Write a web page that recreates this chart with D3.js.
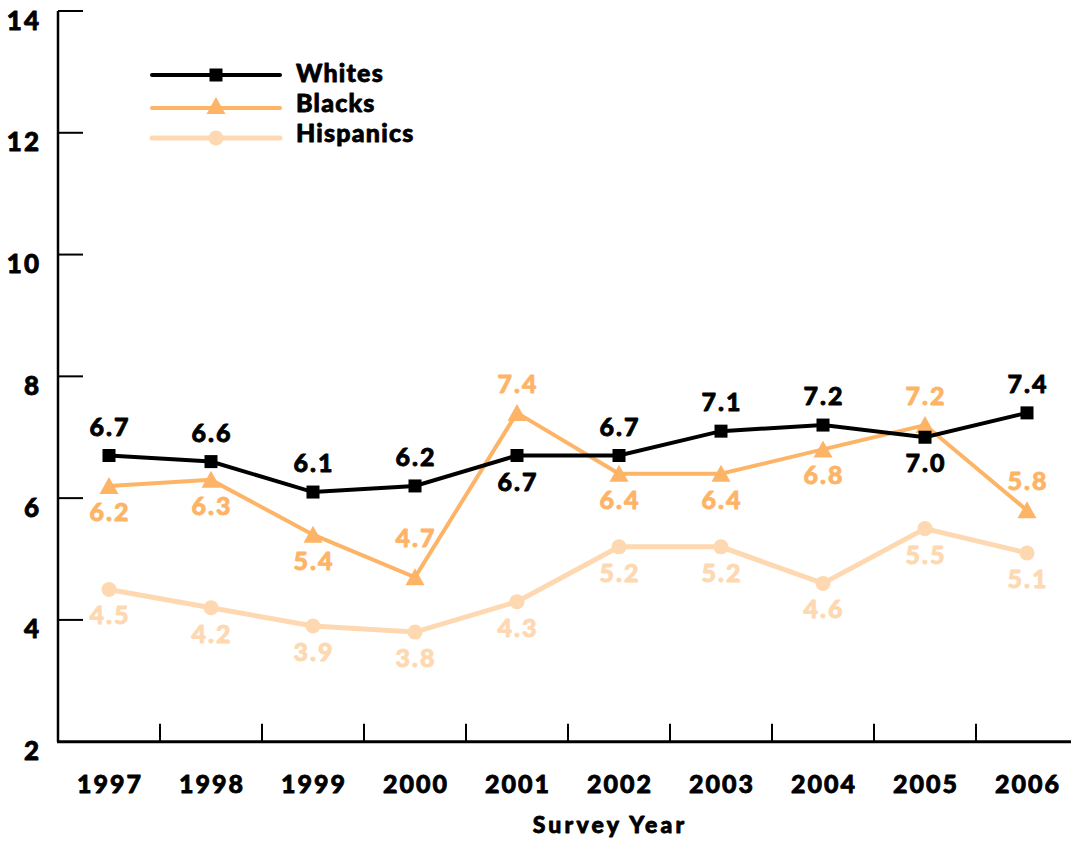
<!DOCTYPE html>
<html>
<head>
<meta charset="utf-8">
<script src="https://cdn.jsdelivr.net/npm/d3@7/dist/d3.min.js"></script>
<style>
  html, body { margin: 0; padding: 0; background: #fff; }
  svg text { font-family: "Lato", "Open Sans", sans-serif; font-weight: 900; stroke-width: 0.8px; stroke-linejoin: round; }
</style>
</head>
<body>
<svg id="chart" width="1071" height="846"></svg>
<script>
// Survey years and the three series
const years = ["1997", "1998", "1999", "2000", "2001", "2002", "2003", "2004", "2005", "2006"];
const whites    = [6.7, 6.6, 6.1, 6.2, 6.7, 6.7, 7.1, 7.2, 7.0, 7.4];
const blacks    = [6.2, 6.3, 5.4, 4.7, 7.4, 6.4, 6.4, 6.8, 7.2, 5.8];
const hispanics = [4.5, 4.2, 3.9, 3.8, 4.3, 5.2, 5.2, 4.6, 5.5, 5.1];
const yTicks = [2, 4, 6, 8, 10, 12, 14];

// Which side of each point its value label sits on
const whitesPlace    = ["above", "above", "above", "above", "below", "above", "above", "above", "below", "above"];
const blacksPlace    = ["below", "below", "below", "high", "above", "below", "below", "below", "above", "above"];
const hispanicsPlace = ["below", "below", "below", "below", "below", "below", "below", "below", "below", "below"];
const placeOffset = { above: -20, high: -30, below: 35 };

const series = [
  { name: "Whites",    values: whites,    place: whitesPlace,    color: "#000000", width: 4, marker: "square" },
  { name: "Blacks",    values: blacks,    place: blacksPlace,    color: "#FDB466", width: 4, marker: "triangle" },
  { name: "Hispanics", values: hispanics, place: hispanicsPlace, color: "#FDD8B1", width: 5, marker: "circle" }
];

const svg = d3.select("#chart");
const plotLeft = 58, plotRight = 1078, plotTop = 11, plotBottom = 741.7;

const x = d3.scaleBand().domain(years).range([plotLeft, plotRight]).padding(0);
const y = d3.scaleLinear().domain([2, 14]).range([plotBottom, plotTop]);
const cx = d => x(d) + x.bandwidth() / 2;

// Y axis: line with ticks pointing into the plot
const yAxis = svg.append("g");
yAxis.append("line")
  .attr("x1", plotLeft).attr("x2", plotLeft).attr("y1", y(14)).attr("y2", y(2))
  .attr("stroke", "#000").attr("stroke-width", 2.5);
yAxis.selectAll("line.tick").data(yTicks.filter(t => t !== 2)).join("line")
  .attr("class", "tick")
  .attr("x1", plotLeft).attr("x2", plotLeft + 25)
  .attr("y1", d => y(d)).attr("y2", d => y(d))
  .attr("stroke", "#000").attr("stroke-width", 2);
yAxis.selectAll("text").data(yTicks).join("text")
  .attr("x", 41).attr("y", d => y(d) + 18.5)
  .attr("text-anchor", "end")
  .attr("font-size", 26)
  .attr("letter-spacing", 2)
  .attr("fill", "#000").attr("stroke", "#000")
  .text(d => d);

// X axis: baseline with ticks between the years
const xAxis = svg.append("g");
xAxis.append("line")
  .attr("x1", plotLeft - 1).attr("x2", plotRight).attr("y1", plotBottom).attr("y2", plotBottom)
  .attr("stroke", "#000").attr("stroke-width", 3);
xAxis.selectAll("line.tick").data(years.slice(0, -1)).join("line")
  .attr("class", "tick")
  .attr("x1", d => x(d) + x.bandwidth()).attr("x2", d => x(d) + x.bandwidth())
  .attr("y1", plotBottom).attr("y2", plotBottom - 18)
  .attr("stroke", "#000").attr("stroke-width", 2);
xAxis.selectAll("text").data(years).join("text")
  .attr("x", d => cx(d) + 1).attr("y", 792.5)
  .attr("text-anchor", "middle")
  .attr("font-size", 25)
  .attr("letter-spacing", 2)
  .attr("fill", "#000").attr("stroke", "#000")
  .text(d => d);

svg.append("text")
  .attr("x", 610).attr("y", 833)
  .attr("text-anchor", "middle")
  .attr("font-size", 23)
  .attr("letter-spacing", 3.2)
  .attr("fill", "#000").attr("stroke", "#000")
  .text("Survey Year");

// Marker shapes
function drawMarker(g, type, color) {
  if (type === "square") {
    g.append("rect").attr("x", -6.5).attr("y", -6.5).attr("width", 13).attr("height", 13).attr("fill", color);
  } else if (type === "triangle") {
    g.append("path").attr("d", "M0,-9 L9.5,8 L-9.5,8 Z").attr("fill", color);
  } else {
    g.append("circle").attr("r", 7.5).attr("fill", color);
  }
}

// Draw Hispanics first so darker series sit on top
const drawOrder = [series[2], series[1], series[0]];
const line = d3.line().x((d, i) => cx(years[i])).y(d => y(d));

drawOrder.forEach(s => {
  const g = svg.append("g");
  g.append("path")
    .attr("d", line(s.values))
    .attr("fill", "none")
    .attr("stroke", s.color)
    .attr("stroke-width", s.width)
    .attr("stroke-linejoin", "miter");
  s.values.forEach((v, i) => {
    const m = g.append("g").attr("transform", `translate(${cx(years[i])},${y(v)})`);
    drawMarker(m, s.marker, s.color);
  });
});

// Value labels
drawOrder.forEach(s => {
  svg.append("g").selectAll("text").data(s.values).join("text")
    .attr("x", (d, i) => cx(years[i]) + 1)
    .attr("y", (d, i) => y(d) + placeOffset[s.place[i]])
    .attr("text-anchor", "middle")
    .attr("font-size", 25)
    .attr("letter-spacing", 2)
    .attr("fill", s.color).attr("stroke", s.color)
    .text(d => d.toFixed(1));
});

// Legend
const legendRows = [
  { s: series[0], lineY: 75,  textY: 82 },
  { s: series[1], lineY: 108, textY: 111.5 },
  { s: series[2], lineY: 138, textY: 141.5 }
];
const legend = svg.append("g");
legendRows.forEach(r => {
  legend.append("line")
    .attr("x1", 152).attr("x2", 280).attr("y1", r.lineY).attr("y2", r.lineY)
    .attr("stroke", r.s.color).attr("stroke-width", r.s.width)
    .attr("stroke-linecap", "round");
  const m = legend.append("g").attr("transform", `translate(216,${r.s.marker === "triangle" ? r.lineY - 2 : r.lineY})`);
  drawMarker(m, r.s.marker, r.s.color);
  legend.append("text")
    .attr("x", 296).attr("y", r.textY)
    .attr("font-size", 25)
    .attr("letter-spacing", 1.2)
    .attr("fill", "#000").attr("stroke", "#000")
    .text(r.s.name);
});
</script>
</body>
</html>
